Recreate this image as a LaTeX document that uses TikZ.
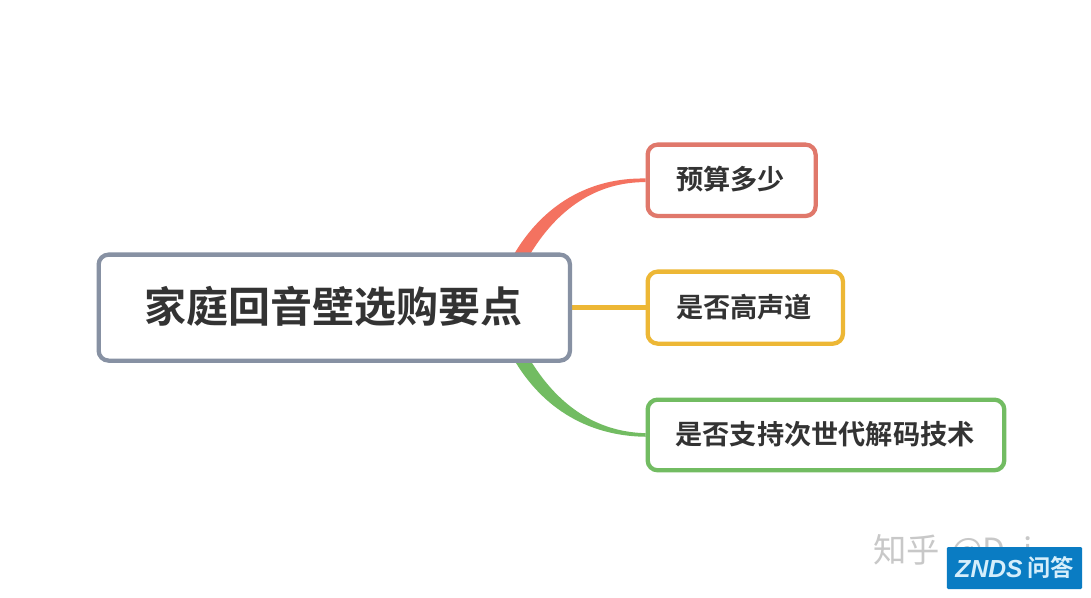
\documentclass[tikz,border=0pt]{standalone}
\usepackage{fontspec}
\usetikzlibrary{calc}
\setmainfont{Liberation Sans}
\newfontfamily\cjk{Noto Sans CJK SC}[BoldFont={Noto Sans CJK SC Bold}]
\definecolor{rootc}{HTML}{8791A3}
\definecolor{redb}{HTML}{E0786B}
\definecolor{redl}{HTML}{F47260}
\definecolor{yel}{HTML}{EDB735}
\definecolor{grn}{HTML}{72BC62}
\definecolor{ink}{HTML}{333333}
\definecolor{wm}{HTML}{C8C8C8}
\definecolor{zblue}{HTML}{0A7CC3}
\definecolor{zlight}{HTML}{D5EEFB}
\pgfdeclarelayer{links}
\pgfsetlayers{links,main}
\tikzset{
 box/.style={draw,fill=white,line width=3.2pt,rounded corners=7.5pt,inner sep=0pt,anchor=north west},
 rootbox/.style={box,draw=rootc,minimum width=353.5pt,minimum height=79.5pt},
 label/.style={text=ink,font=\cjk\bfseries\fontsize{20.4}{24}\selectfont},
}
\begin{document}
\begin{tikzpicture}[x=0.75pt,y=-0.75pt]
\useasboundingbox (0,0) rectangle (1091,598);
\node[rootbox] (root) at (96.5,252.5) {};
\node[box,draw=redb,minimum width=126pt,minimum height=53.5pt] (a) at (645.5,142.5) {};
\node[box,draw=yel,minimum width=146.5pt,minimum height=54pt] (b) at (645.5,269.5) {};
\node[box,draw=grn,minimum width=267.5pt,minimum height=53pt] (c) at (645.5,397.5) {};
\coordinate (r1) at (521,256);
\coordinate (r3) at (521,358);
\coordinate (a1) at (a.west);
\coordinate (c1) at (c.west);
\begin{pgfonlayer}{links}
\fill[white] (0,0) rectangle (1091,598);
\fill[redl] ($(r1)+(-8,0)$) .. controls (543,204) and (590,177.5) .. ($(a1)+(0,-1.8)$) -- ($(a1)+(0,1.8)$) .. controls (596,182) and (557,209) .. ($(r1)+(8,0)$) -- cycle;
\fill[grn] ($(r3)+(-8,0)$) .. controls (543,410) and (590,436) .. ($(c1)+(0,1.8)$) -- ($(c1)+(0,-1.8)$) .. controls (596,432) and (557,405) .. ($(r3)+(8,0)$) -- cycle;
\draw[yel,line width=3.6pt] (root.east) -- (b.west);
\end{pgfonlayer}
\node[text=ink,font=\cjk\bfseries\fontsize{31.5}{36}\selectfont] (roott) at (333,306) {家庭回音壁选购要点};
\node[label] (at) at (730.5,179) {预算多少};
\node[label] (bt) at (744,307) {是否高声道};
\node[label] (ct) at (825,434) {是否支持次世代解码技术};
% watermark
\node[text=wm,anchor=west,inner sep=0pt,font=\cjk\fontsize{25}{28}\selectfont] (wm) at (873,551) {知乎\hspace{3pt} @D\hspace{13pt}i};
\node[fill=zblue,rounded corners=1pt,minimum width=101.5pt,minimum height=31.5pt,inner sep=0pt] (logo) at (1014.5,568) {};
\node[text=zlight,inner sep=0pt,font=\fontsize{18.5}{20}\selectfont\bfseries\itshape] (logot) at (989,569) {ZNDS};
\node[text=zlight,inner sep=0pt,anchor=west,font=\cjk\bfseries\fontsize{17.5}{20}\selectfont] (logoc) at (1027,568) {问答};
\end{tikzpicture}
\end{document}
